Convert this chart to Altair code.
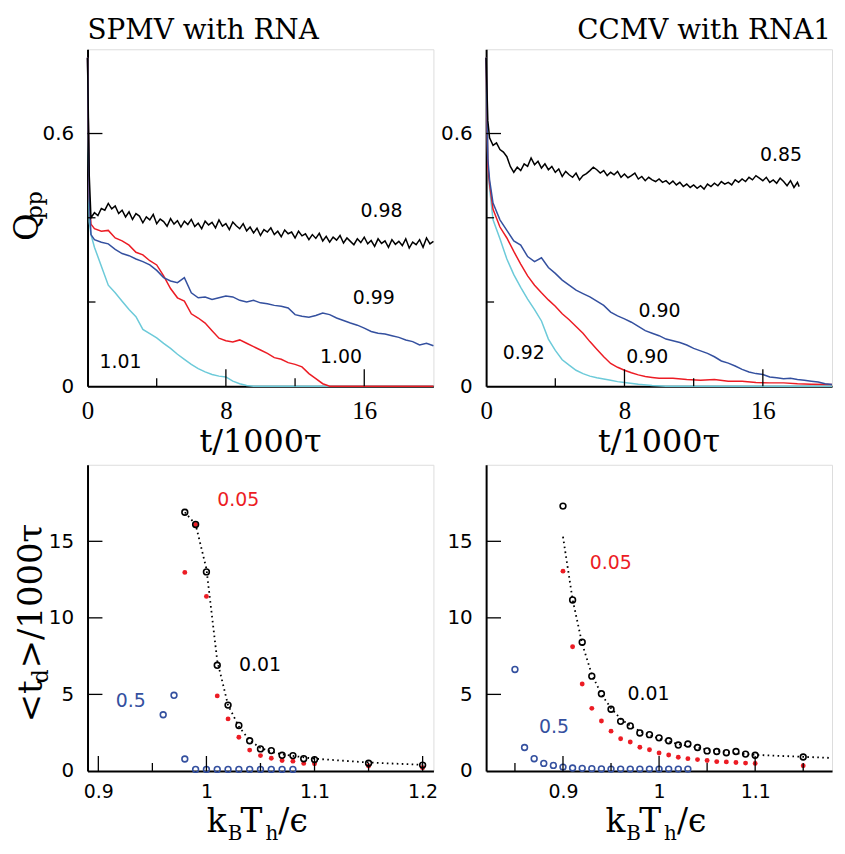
import altair as alt
import pandas as pd

# ---------------- top-left : SPMV with RNA  (Q_pp vs t/1000tau) ----------------
# (t, Q_pp) pairs for k_B T_h = 0.98 (black)
TL_098 = [(0, 0.78), (0.1, 0.50), (0.2, 0.40), (0.4, 0.412), (0.6, 0.405), (0.8, 0.422),
          (1.0, 0.418), (1.2, 0.434), (1.4, 0.421), (1.6, 0.428), (1.8, 0.410), (2.0, 0.418),
          (2.2, 0.402), (2.4, 0.414), (2.6, 0.396), (2.8, 0.410), (3.0, 0.404), (3.2, 0.388),
          (3.4, 0.402), (3.6, 0.395), (3.8, 0.408), (4.0, 0.386), (4.2, 0.397), (4.4, 0.391),
          (4.6, 0.380), (4.8, 0.398), (5.0, 0.385), (5.2, 0.393), (5.4, 0.378), (5.6, 0.392),
          (5.8, 0.384), (6.0, 0.396), (6.2, 0.379), (6.4, 0.387), (6.6, 0.374), (6.8, 0.392),
          (7.0, 0.383), (7.2, 0.389), (7.4, 0.376), (7.6, 0.395), (7.8, 0.380), (8.0, 0.386),
          (8.2, 0.372), (8.4, 0.390), (8.6, 0.381), (8.8, 0.374), (9.0, 0.386), (9.2, 0.369),
          (9.4, 0.378), (9.6, 0.364), (9.8, 0.375), (10.0, 0.358), (10.2, 0.372), (10.4, 0.366),
          (10.6, 0.376), (10.8, 0.360), (11.0, 0.368), (11.2, 0.355), (11.4, 0.371), (11.6, 0.362),
          (11.8, 0.366), (12.0, 0.352), (12.2, 0.368), (12.4, 0.357), (12.6, 0.362), (12.8, 0.348),
          (13.0, 0.360), (13.2, 0.351), (13.4, 0.363), (13.6, 0.345), (13.8, 0.356), (14.0, 0.342),
          (14.2, 0.354), (14.4, 0.347), (14.6, 0.358), (14.8, 0.340), (15.0, 0.352), (15.2, 0.344),
          (15.4, 0.336), (15.6, 0.350), (15.8, 0.341), (16.0, 0.354), (16.2, 0.338), (16.4, 0.346),
          (16.6, 0.332), (16.8, 0.350), (17.0, 0.339), (17.2, 0.345), (17.4, 0.330), (17.6, 0.348),
          (17.8, 0.337), (18.0, 0.344), (18.2, 0.334), (18.4, 0.350), (18.6, 0.328), (18.8, 0.342),
          (19.0, 0.336), (19.2, 0.348), (19.4, 0.330), (19.6, 0.352), (19.8, 0.338), (20.0, 0.344)]
TL_T_099 = [0, 0.1, 0.2, 0.4, 0.8, 1.2, 1.6, 2.0, 2.4, 2.8, 3.2, 3.6, 4.0, 4.4, 4.8, 5.2, 5.6, 6.0,
            6.4, 6.8, 7.2, 7.6, 8.0, 8.4, 8.8, 9.2, 9.6, 10.0, 10.4, 10.8, 11.2, 11.6, 12.0, 12.4,
            12.8, 13.2, 13.6, 14.0, 14.4, 14.8, 15.2, 15.6, 16.0, 16.4, 16.8, 17.2, 17.6, 18.0,
            18.4, 18.8, 19.2, 19.6, 20.0]
TL_Q_099 = [0.78, 0.45, 0.360, 0.348, 0.342, 0.338, 0.325, 0.315, 0.310, 0.302, 0.296, 0.288,
            0.275, 0.258, 0.250, 0.246, 0.258, 0.222, 0.210, 0.212, 0.206, 0.210, 0.214, 0.212,
            0.204, 0.200, 0.204, 0.198, 0.196, 0.192, 0.190, 0.186, 0.170, 0.166, 0.164, 0.168,
            0.174, 0.170, 0.162, 0.156, 0.150, 0.145, 0.138, 0.130, 0.126, 0.124, 0.120, 0.116,
            0.110, 0.106, 0.098, 0.102, 0.096]
TL_T_100 = [0, 0.1, 0.2, 0.4, 0.8, 1.2, 1.6, 2.0, 2.4, 2.8, 3.2, 3.6, 4.0, 4.4, 4.8, 5.2, 5.6, 6.0,
            6.4, 6.8, 7.2, 7.6, 8.0, 8.4, 8.8, 9.2, 9.6, 10.0, 10.4, 10.8, 11.2, 11.6, 12.0, 12.4,
            12.8, 13.2, 13.6, 14.0, 20.0]
TL_Q_100 = [0.78, 0.45, 0.385, 0.374, 0.368, 0.370, 0.352, 0.345, 0.335, 0.318, 0.312, 0.298,
            0.288, 0.262, 0.232, 0.210, 0.202, 0.172, 0.162, 0.150, 0.132, 0.114, 0.108, 0.105,
            0.110, 0.102, 0.094, 0.086, 0.078, 0.068, 0.064, 0.056, 0.052, 0.046, 0.030, 0.018,
            0.006, 0.0, 0.0]
TL_T_101 = [0, 0.1, 0.2, 0.4, 0.8, 1.2, 1.6, 2.0, 2.4, 2.8, 3.2, 3.6, 4.0, 4.4, 4.8, 5.2, 5.6, 6.0,
            6.4, 6.8, 7.2, 7.6, 8.0, 8.4, 8.8, 9.2, 9.6, 20.0]
TL_Q_101 = [0.78, 0.39, 0.36, 0.33, 0.285, 0.240, 0.222, 0.202, 0.182, 0.165, 0.135, 0.125,
            0.115, 0.102, 0.090, 0.076, 0.064, 0.052, 0.042, 0.034, 0.028, 0.024, 0.022, 0.012,
            0.006, 0.002, 0.0, 0.0]

# ---------------- top-right : CCMV with RNA1 ----------------
# (t, Q_pp) pairs for k_B T_h = 0.85 (black)
TR_085 = [(0, 0.78), (0.1, 0.63), (0.2, 0.59), (0.4, 0.572), (0.6, 0.578), (0.8, 0.562),
          (1.0, 0.556), (1.2, 0.545), (1.4, 0.522), (1.6, 0.508), (1.8, 0.520), (2.0, 0.512),
          (2.2, 0.528), (2.4, 0.522), (2.6, 0.542), (2.8, 0.526), (3.0, 0.534), (3.2, 0.518),
          (3.4, 0.528), (3.6, 0.514), (3.8, 0.522), (4.0, 0.508), (4.2, 0.516), (4.4, 0.498),
          (4.6, 0.510), (4.8, 0.502), (5.0, 0.496), (5.2, 0.506), (5.4, 0.490), (5.6, 0.500),
          (5.8, 0.505), (6.0, 0.512), (6.2, 0.520), (6.4, 0.514), (6.6, 0.506), (6.8, 0.512),
          (7.0, 0.500), (7.2, 0.508), (7.4, 0.502), (7.6, 0.510), (7.8, 0.496), (8.0, 0.504),
          (8.2, 0.495), (8.4, 0.500), (8.6, 0.506), (8.8, 0.492), (9.0, 0.498), (9.2, 0.488),
          (9.4, 0.496), (9.6, 0.490), (9.8, 0.486), (10.0, 0.492), (10.2, 0.484), (10.4, 0.488),
          (10.6, 0.480), (10.8, 0.487), (11.0, 0.478), (11.2, 0.484), (11.4, 0.474), (11.6, 0.480),
          (11.8, 0.472), (12.0, 0.478), (12.2, 0.470), (12.4, 0.476), (12.6, 0.468), (12.8, 0.480),
          (13.0, 0.474), (13.2, 0.482), (13.4, 0.476), (13.6, 0.486), (13.8, 0.480), (14.0, 0.484),
          (14.2, 0.478), (14.4, 0.490), (14.6, 0.484), (14.8, 0.492), (15.0, 0.486), (15.2, 0.496),
          (15.4, 0.490), (15.6, 0.500), (15.8, 0.494), (16.0, 0.488), (16.2, 0.496), (16.4, 0.484),
          (16.6, 0.490), (16.8, 0.482), (17.0, 0.494), (17.2, 0.486), (17.4, 0.476), (17.6, 0.488),
          (17.8, 0.472), (18.0, 0.484), (18.1, 0.474)]
TR_T_090b = [0, 0.1, 0.2, 0.4, 0.8, 1.2, 1.6, 2.0, 2.4, 2.8, 3.2, 3.6, 4.0, 4.4, 4.8, 5.2, 5.6, 6.0,
             6.4, 6.8, 7.2, 7.6, 8.0, 8.4, 8.8, 9.2, 9.6, 10.0, 10.4, 10.8, 11.2, 11.6, 12.0, 12.4,
             12.8, 13.2, 13.6, 14.0, 14.4, 14.8, 15.2, 15.6, 16.0, 16.4, 16.8, 17.2, 17.6, 18.0,
             18.4, 18.8, 19.2, 19.6, 20.0]
TR_Q_090b = [0.78, 0.54, 0.49, 0.435, 0.395, 0.370, 0.345, 0.335, 0.308, 0.296, 0.305, 0.282,
             0.268, 0.252, 0.240, 0.228, 0.220, 0.212, 0.202, 0.192, 0.176, 0.167, 0.160, 0.152,
             0.142, 0.132, 0.126, 0.120, 0.112, 0.108, 0.104, 0.098, 0.090, 0.084, 0.078, 0.070,
             0.060, 0.055, 0.048, 0.040, 0.034, 0.030, 0.028, 0.022, 0.020, 0.018, 0.019, 0.016,
             0.014, 0.012, 0.010, 0.006, 0.004]
TR_T_090r = [0, 0.1, 0.2, 0.4, 0.8, 1.2, 1.6, 2.0, 2.4, 2.8, 3.2, 3.6, 4.0, 4.4, 4.8, 5.2, 5.6, 6.0,
             6.4, 6.8, 7.2, 7.6, 8.0, 8.4, 8.8, 9.2, 9.6, 10.0, 10.8, 11.6, 12.4, 13.2, 14.0, 14.8,
             15.6, 16.4, 17.2, 18.0, 18.8, 20.0]
TR_Q_090r = [0.78, 0.52, 0.48, 0.42, 0.378, 0.352, 0.320, 0.290, 0.262, 0.240, 0.222, 0.205,
             0.190, 0.172, 0.158, 0.142, 0.126, 0.106, 0.088, 0.070, 0.054, 0.045, 0.038, 0.032,
             0.027, 0.023, 0.021, 0.019, 0.019, 0.016, 0.014, 0.016, 0.012, 0.012, 0.009, 0.008,
             0.008, 0.006, 0.005, 0.004]
TR_T_092 = [0, 0.1, 0.2, 0.4, 0.8, 1.2, 1.6, 2.0, 2.4, 2.8, 3.2, 3.6, 4.0, 4.4, 4.8, 5.2, 5.6, 6.0,
            6.4, 6.8, 7.2, 7.6, 8.0, 8.8, 9.6, 10.4, 20.0]
TR_Q_092 = [0.78, 0.53, 0.47, 0.395, 0.350, 0.302, 0.265, 0.235, 0.207, 0.182, 0.155, 0.112,
            0.085, 0.063, 0.050, 0.038, 0.030, 0.024, 0.020, 0.017, 0.014, 0.011, 0.009, 0.005,
            0.002, 0.0, 0.0]

# ---------------- bottom-left : SPMV <t_d> vs k_B T_h ----------------
BL_T = [0.98, 0.99, 1.00, 1.01, 1.02, 1.03, 1.04, 1.05, 1.06, 1.07, 1.08, 1.09, 1.10, 1.15, 1.20]
BL_TD_001 = [16.9, 16.1, 13.0, 6.9, 4.3, 2.97, 1.97, 1.44, 1.33, 1.02, 1.0, 0.8, 0.74, 0.5, 0.38]
BL_TD_005 = [12.97, 16.1, 11.4, 4.9, 3.4, 2.2, 1.36, 1.0, 0.83, 0.68, 0.64, 0.49, 0.47, 0.32, 0.21]
BL_T_05 = [0.96, 0.97, 0.98, 0.99, 1.00, 1.01, 1.02, 1.03, 1.04, 1.05, 1.06, 1.07, 1.08]
BL_TD_05 = [3.67, 4.94, 0.78, 0.1, 0.1, 0.1, 0.1, 0.1, 0.1, 0.1, 0.1, 0.1, 0.1]
BL_FIT_T = [0.98, 0.99, 1.00, 1.01, 1.02, 1.03, 1.04, 1.05, 1.06, 1.07, 1.08, 1.10, 1.15, 1.20]
BL_FIT_V = [16.9, 16.1, 13.2, 7.2, 4.3, 2.9, 2.0, 1.5, 1.25, 1.08, 0.98, 0.8, 0.55, 0.4]

# ---------------- bottom-right : CCMV ----------------
BR_T = [0.90, 0.91, 0.92, 0.93, 0.94, 0.95, 0.96, 0.97, 0.98, 0.99, 1.00, 1.01, 1.02, 1.03,
        1.04, 1.05, 1.06, 1.07, 1.08, 1.09, 1.10, 1.15]
BR_TD_001 = [17.3, 11.17, 8.41, 6.19, 5.04, 4.03, 3.24, 2.94, 2.48, 2.37, 2.16, 1.97, 1.69,
             1.76, 1.53, 1.31, 1.27, 1.19, 1.27, 1.1, 1.02, 0.91]
BR_TD_005 = [13.05, 8.11, 5.68, 4.09, 3.26, 2.6, 2.1, 1.89, 1.55, 1.38, 1.17, 1.04, 0.89, 0.8,
             0.74, 0.68, 0.61, 0.59, 0.55, 0.51, 0.49, 0.34]
BR_T_05 = [0.85, 0.86, 0.87, 0.88, 0.89, 0.90, 0.91, 0.92, 0.93, 0.94, 0.95, 0.96, 0.97, 0.98,
           0.99, 1.00, 1.01, 1.02, 1.03]
BR_TD_05 = [6.63, 1.53, 0.8, 0.49, 0.36, 0.25, 0.19, 0.17, 0.15, 0.13, 0.12, 0.12, 0.12, 0.12,
            0.12, 0.12, 0.12, 0.12, 0.12]
BR_FIT_T = [0.90, 0.91, 0.92, 0.93, 0.94, 0.95, 0.96, 0.97, 0.98, 1.00, 1.02, 1.05, 1.08, 1.10,
            1.15, 1.18]
BR_FIT_V = [15.3, 11.2, 8.3, 6.3, 5.0, 4.1, 3.4, 2.95, 2.6, 2.1, 1.75, 1.4, 1.15, 1.05, 0.92, 0.85]

# ---------------- annotations ----------------
TL_LAB = ["0.98", "0.99", "1.00", "1.01"]
TL_LAB_X = [17.0, 16.55, 14.66, 1.91]
TL_LAB_Y = [0.417, 0.209, 0.0685, 0.057]
TR_LAB = ["0.85", "0.90", "0.90", "0.92"]
TR_LAB_X = [17.05, 10.03, 9.32, 2.18]
TR_LAB_Y = [0.549, 0.179, 0.0685, 0.079]
BOT_LAB = ["0.05", "0.01", "0.5"]
BL_LAB_X = [1.0295, 1.0495, 0.93]
BL_LAB_Y = [17.7, 6.94, 4.57]
BR_LAB_X = [0.9496, 0.9889, 0.8906]
BR_LAB_Y = [13.57, 5.0, 2.88]

BLACK = "#000000"
RED = "#ec1c24"
BLUE = "#34509f"
CYAN = "#6ccad9"
BOT_LAB_COL = [RED, BLACK, BLUE]

W = 348
H_TOP = 339
H_BOT = 308
ONE = pd.DataFrame({"a": [0]})


def pairs(p):
    return [a for a, _ in p], [b for _, b in p]


def txt(s, x, y, size, font="DejaVu Serif", angle=None, align="left", color=BLACK):
    kw = dict(text=s, font=font, fontSize=size, align=align, baseline="alphabetic", color=color)
    if angle is not None:
        kw["angle"] = angle
    return alt.Chart(ONE).mark_text(**kw).encode(x=alt.value(x), y=alt.value(y))


def axis(values, font, size, pad):
    return alt.Axis(values=values, title=None, grid=False, ticks=False, tickSize=0,
                    labelFont=font, labelFontSize=size, labelPadding=pad, labelFlush=False,
                    labelOverlap=False, labelColor=BLACK, domainColor=BLACK, domainWidth=2,
                    format="~g")


def panel(xdom, ydom, xvals, yvals, xfont, xsize, xpad, H, lines, points, fit, labels,
          xmaj, xmin, ymaj, ymin, xmaj_len, extra):
    XS = alt.Scale(domain=xdom, nice=False, zero=False)
    YS = alt.Scale(domain=ydom, nice=False, zero=False)
    XA = axis(xvals, xfont, xsize, xpad)
    YA = axis(yvals, "DejaVu Sans", 20, 14)

    def enc(ch):
        return ch.encode(x=alt.X("x:Q", scale=XS, axis=XA), y=alt.Y("y:Q", scale=YS, axis=YA))

    layers = []
    if fit is not None:
        layers.append(enc(alt.Chart(pd.DataFrame({"x": fit[0], "y": fit[1]})).mark_line(
            color=BLACK, strokeWidth=1.8, strokeDash=[1.6, 3.4])))
    for t, q, col in lines:
        layers.append(enc(alt.Chart(pd.DataFrame({"x": t, "y": q})).mark_line(
            color=col, strokeWidth=1.5)))
    for t, v, col, filled in points:
        df = pd.DataFrame({"x": t, "y": v})
        if filled:
            m = alt.Chart(df).mark_circle(color=col, size=24, opacity=1)
        else:
            m = alt.Chart(df).mark_point(color=col, size=34, strokeWidth=1.6, filled=False,
                                         shape="circle", opacity=1)
        layers.append(enc(m))
    # annotations
    ldf = pd.DataFrame({"x": labels[1], "y": labels[2], "lab": labels[0], "c": labels[3]})
    layers.append(enc(alt.Chart(ldf).mark_text(font="DejaVu Sans", fontSize=19, align="center",
                                               baseline="middle")).encode(
        text="lab:N", color=alt.Color("c:N", scale=None)))
    # inward tick marks
    layers.append(alt.Chart(pd.DataFrame({"x": xmaj})).mark_rule(color=BLACK, strokeWidth=1.3).encode(
        x=alt.X("x:Q", scale=XS, axis=XA), y=alt.value(H), y2=alt.value(H - xmaj_len)))
    layers.append(alt.Chart(pd.DataFrame({"x": xmin})).mark_rule(color=BLACK, strokeWidth=1.3).encode(
        x=alt.X("x:Q", scale=XS, axis=XA), y=alt.value(H), y2=alt.value(H - 8)))
    layers.append(alt.Chart(pd.DataFrame({"y": ymaj})).mark_rule(color=BLACK, strokeWidth=1.3).encode(
        y=alt.Y("y:Q", scale=YS, axis=YA), x=alt.value(0), x2=alt.value(15)))
    if ymin:
        layers.append(alt.Chart(pd.DataFrame({"y": ymin})).mark_rule(color=BLACK, strokeWidth=1.3).encode(
            y=alt.Y("y:Q", scale=YS, axis=YA), x=alt.value(0), x2=alt.value(8)))
    layers += extra
    return alt.layer(*layers).properties(width=W, height=H)


# ----- text pieces -----
anchor = alt.Chart(ONE).mark_rule(opacity=0, strokeOpacity=0).encode(
    x=alt.value(-79), x2=alt.value(-78), y=alt.value(-38), y2=alt.value(-37))

tl_extra = [anchor,
            txt("SPMV with RNA", 0, -10, 28),
            txt("t/1000τ", 174, 405, 32, align="center"),
            txt("Q", -50, 179, 34, angle=270, align="center"),
            txt("pp", -45.5, 157, 22, angle=270, align="center")]
tr_extra = [txt("CCMV with RNA1", W - 1, -10, 28, align="right"),
            txt("t/1000τ", 174, 405, 32, align="center")]


def kbt():
    return [txt("k", 120, 369, 33), txt("B", 141, 377, 20), txt("T", 154, 369, 33),
            txt("h", 179, 377, 20), txt("/ϵ", 192, 369, 33)]


bl_extra = [txt("<t", -45.3, 259, 34, angle=270),
            txt("d", -40, 219.7, 22, angle=270),
            txt(">/1000τ", -45.3, 204.7, 34, angle=270)] + kbt()
br_extra = kbt()

TL_T_098, TL_Q_098 = pairs(TL_098)
TR_T_085, TR_Q_085 = pairs(TR_085)

p_tl = panel([0, 20], [0, 0.8], [0, 8, 16], [0, 0.6], "Liberation Serif", 25, 12, H_TOP,
             [(TL_T_101, TL_Q_101, CYAN), (TL_T_100, TL_Q_100, RED),
              (TL_T_099, TL_Q_099, BLUE), (TL_T_098, TL_Q_098, BLACK)],
             [], None, (TL_LAB, TL_LAB_X, TL_LAB_Y, [BLACK] * 4),
             [8, 16], [4, 12], [0.6], [0.2, 0.4], 17, tl_extra)
p_tr = panel([0, 20], [0, 0.8], [0, 8, 16], [0, 0.6], "Liberation Serif", 25, 12, H_TOP,
             [(TR_T_092, TR_Q_092, CYAN), (TR_T_090r, TR_Q_090r, RED),
              (TR_T_090b, TR_Q_090b, BLUE), (TR_T_085, TR_Q_085, BLACK)],
             [], None, (TR_LAB, TR_LAB_X, TR_LAB_Y, [BLACK] * 4),
             [8, 16], [4, 12], [0.6], [0.2, 0.4], 17, tr_extra)
p_bl = panel([0.89, 1.21], [0, 20], [0.9, 1, 1.1, 1.2], [0, 5, 10, 15], "DejaVu Sans", 19, 12, H_BOT,
             [], [(BL_T, BL_TD_005, RED, True), (BL_T, BL_TD_001, BLACK, False),
                  (BL_T_05, BL_TD_05, BLUE, False)],
             (BL_FIT_T, BL_FIT_V), (BOT_LAB, BL_LAB_X, BL_LAB_Y, BOT_LAB_COL),
             [0.9, 1.0, 1.1, 1.2], [0.95, 1.05, 1.15], [5, 10, 15], [], 15, bl_extra)
p_br = panel([0.82, 1.18], [0, 20], [0.9, 1, 1.1], [0, 5, 10, 15], "DejaVu Sans", 19, 12, H_BOT,
             [], [(BR_T, BR_TD_005, RED, True), (BR_T, BR_TD_001, BLACK, False),
                  (BR_T_05, BR_TD_05, BLUE, False)],
             (BR_FIT_T, BR_FIT_V), (BOT_LAB, BR_LAB_X, BR_LAB_Y, BOT_LAB_COL),
             [0.9, 1.0, 1.1], [0.85, 0.95, 1.05, 1.15], [5, 10, 15], [], 15, br_extra)

chart = alt.concat(p_tl, p_tr, p_bl, p_br, columns=2, spacing={"row": 79, "column": 53},
                   bounds="flush", align="each").properties(
    padding={"left": 0, "top": 0, "right": 0, "bottom": 0}
).configure_view(stroke=BLACK, strokeWidth=1.2).configure(background="white")

chart.save("out.html", embed_options={"renderer": "svg", "actions": False})
